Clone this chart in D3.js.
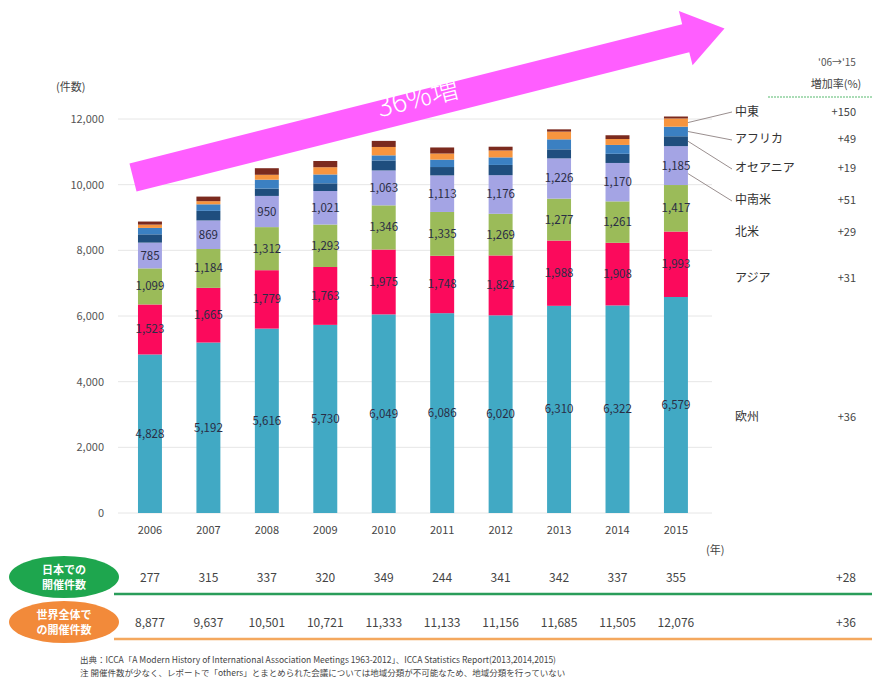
<!DOCTYPE html>
<html>
<head>
<meta charset="utf-8">
<script src="https://cdnjs.cloudflare.com/ajax/libs/d3/7.8.5/d3.min.js"></script>
<style>
  body { margin: 0; background: #fff; }
  text { font-family: "Noto Sans CJK JP", "Noto Sans", sans-serif; }
</style>
</head>
<body>
<svg id="chart" width="872" height="688"></svg>
<script>
const years = ["2006", "2007", "2008", "2009", "2010", "2011", "2012", "2013", "2014", "2015"];
const europe = [4828, 5192, 5616, 5730, 6049, 6086, 6020, 6310, 6322, 6579];
const asia = [1523, 1665, 1779, 1763, 1975, 1748, 1824, 1988, 1908, 1993];
const northAmerica = [1099, 1184, 1312, 1293, 1346, 1335, 1269, 1277, 1261, 1417];
const latinAmerica = [785, 869, 950, 1021, 1063, 1113, 1176, 1226, 1170, 1185];
const oceania = [252, 292, 224, 234, 305, 255, 312, 275, 279, 300];
const africa = [196, 200, 270, 270, 155, 226, 230, 305, 270, 292];
const middleEast = [100, 95, 150, 220, 255, 185, 210, 234, 180, 250];
const others = [94, 140, 200, 190, 185, 185, 115, 70, 115, 60];

const japanCount = [277, 315, 337, 320, 349, 244, 341, 342, 337, 355];
const worldTotal = [8877, 9637, 10501, 10721, 11333, 11133, 11156, 11685, 11505, 12076];

const regionNames = ["欧州", "アジア", "北米", "中南米", "オセアニア", "アフリカ", "中東", "その他"];
const regionGrowth = ["+36", "+31", "+29", "+51", "+19", "+49", "+150", ""];
const regionColors = ["#41a9c4", "#fb0a5c", "#9bbb59", "#a4a4e4", "#1f4e7e", "#3b80c2", "#f7953f", "#7b2a1e"];
const labelled = [true, true, true, true, false, false, false, false];
const yTicks = [0, 2000, 4000, 6000, 8000, 10000, 12000];
const japanGrowth = "+28";
const worldGrowth = "+36";

const series = [europe, asia, northAmerica, latinAmerica, oceania, africa, middleEast, others];
let rows = years.map((y, i) => {
  let r = { year: y };
  series.forEach((s, k) => (r["k" + k] = s[i]));
  return r;
});
let keys = series.map((s, k) => "k" + k);

let svg = d3.select("#chart");
let fmt = d3.format(",");

let x = d3.scaleBand().domain(years).range([103.5, 722.4]).padding(0.59);
let y = d3.scaleLinear().domain([0, 12000]).range([513, 119]);

// gridlines + y tick labels
svg.append("g")
  .selectAll("line")
  .data(yTicks)
  .enter()
  .append("line")
  .attr("x1", 118)
  .attr("x2", 712)
  .attr("y1", (d) => y(d))
  .attr("y2", (d) => y(d))
  .attr("stroke", "#e6e6e6")
  .attr("stroke-width", 1);

svg.append("g")
  .selectAll("text")
  .data(yTicks)
  .enter()
  .append("text")
  .attr("x", 104)
  .attr("y", (d) => y(d) + 4)
  .attr("text-anchor", "end")
  .attr("font-size", 11)
  .attr("fill", "#555")
  .text((d) => fmt(d));

svg.append("text").attr("x", 56).attr("y", 91).attr("font-size", 11).attr("fill", "#444").text("(件数)");

// stacked bars
let stacked = d3.stack().keys(keys)(rows);

let layers = svg.append("g")
  .selectAll("g")
  .data(stacked)
  .enter()
  .append("g")
  .attr("fill", (d, i) => regionColors[i]);

layers.selectAll("rect")
  .data((d) => d)
  .enter()
  .append("rect")
  .attr("x", (d) => x(d.data.year))
  .attr("y", (d) => y(d[1]))
  .attr("width", x.bandwidth())
  .attr("height", (d) => y(d[0]) - y(d[1]));

// value labels inside bigger segments
stacked.forEach((layer, i) => {
  if (!labelled[i]) return;
  svg.append("g")
    .selectAll("text")
    .data(layer)
    .enter()
    .append("text")
    .attr("x", (d) => x(d.data.year) + x.bandwidth() / 2)
    .attr("y", (d) => (y(d[0]) + y(d[1])) / 2 + 4)
    .attr("text-anchor", "middle")
    .attr("font-size", 11.5)
    .attr("fill", "#2a2d45")
    .text((d) => fmt(d[1] - d[0]));
});

// year labels
svg.append("g")
  .selectAll("text")
  .data(years)
  .enter()
  .append("text")
  .attr("x", (d) => x(d) + x.bandwidth() / 2)
  .attr("y", 534)
  .attr("text-anchor", "middle")
  .attr("font-size", 11)
  .attr("fill", "#444")
  .text((d) => d);

svg.append("text").attr("x", 706).attr("y", 554).attr("font-size", 11).attr("fill", "#444").text("(年)");

// right legend with growth rates
svg.append("text").attr("x", 837).attr("y", 66).attr("text-anchor", "middle").attr("font-size", 10).attr("fill", "#555").text("'06→'15");
svg.append("text").attr("x", 836).attr("y", 88).attr("text-anchor", "middle").attr("font-size", 11).attr("fill", "#444").text("増加率(%)");
svg.append("line").attr("x1", 768).attr("x2", 872).attr("y1", 97).attr("y2", 97)
  .attr("stroke", "#8fd19e").attr("stroke-width", 1.5).attr("stroke-dasharray", "2,1");

let legendY = [417, 278, 232, 200, 168, 139, 112];
let last = years.length - 1;
let lx = x(years[last]) + x.bandwidth();
for (let i = 0; i < 7; i++) {
  svg.append("text").attr("x", 735).attr("y", legendY[i] + 4).attr("font-size", 12).attr("fill", "#333").text(regionNames[i]);
  svg.append("text").attr("x", 856).attr("y", legendY[i] + 4).attr("text-anchor", "end").attr("font-size", 11).attr("fill", "#444").text(regionGrowth[i]);
  if (i >= 3) {
    let seg = stacked[i][last];
    svg.append("line")
      .attr("x1", lx)
      .attr("y1", (y(seg[0]) + y(seg[1])) / 2 + (i === 3 ? 8 : 0))
      .attr("x2", 732)
      .attr("y2", legendY[i] + (i === 6 ? 0 : 1))
      .attr("stroke", "#9a8f8f")
      .attr("stroke-width", 1);
  }
}

// pink arrow
let ang = Math.atan2(-0.252, 1);
let ca = Math.cos(ang), sa = Math.sin(ang);
let sx = 133, sy = 177.5, bandLen = 570, half = 14.5, headHalf = 28, headLen = 40;
let px = -sa, py = ca;
let bx = sx + ca * bandLen, by = sy + sa * bandLen;
let arrowPts = [
  [sx - px * half, sy - py * half],
  [bx - px * half, by - py * half],
  [bx - px * headHalf, by - py * headHalf],
  [bx + ca * headLen, by + sa * headLen],
  [bx + px * headHalf, by + py * headHalf],
  [bx + px * half, by + py * half],
  [sx + px * half, sy + py * half]
];
svg.append("path").attr("d", d3.line()(arrowPts) + "Z").attr("fill", "#ff5eff");
svg.append("text")
  .attr("transform", "translate(420,107) rotate(" + (ang * 180 / Math.PI) + ")")
  .attr("text-anchor", "middle")
  .attr("font-size", 28)
  .attr("font-weight", 300)
  .attr("fill", "#fff")
  .text("36%増");

// bottom table
function tableRow(cy, fill, lineColor, label1, label2, values, growth, textFmt) {
  svg.append("ellipse").attr("cx", 64).attr("cy", cy).attr("rx", 55).attr("ry", 21).attr("fill", fill);
  svg.append("text").attr("x", 64).attr("y", cy - 3).attr("text-anchor", "middle").attr("font-size", 11).attr("font-weight", "bold").attr("fill", "#fff").text(label1);
  svg.append("text").attr("x", 64).attr("y", cy + 12).attr("text-anchor", "middle").attr("font-size", 11).attr("font-weight", "bold").attr("fill", "#fff").text(label2);
  svg.append("g")
    .selectAll("text")
    .data(values)
    .enter()
    .append("text")
    .attr("x", (d, i) => x(years[i]) + x.bandwidth() / 2)
    .attr("y", cy + 5)
    .attr("text-anchor", "middle")
    .attr("font-size", 12)
    .attr("fill", "#444")
    .text((d) => textFmt(d));
  svg.append("text").attr("x", 856).attr("y", cy + 5).attr("text-anchor", "end").attr("font-size", 12).attr("fill", "#444").text(growth);
  svg.append("line").attr("x1", 114).attr("x2", 872).attr("y1", cy + 17).attr("y2", cy + 17).attr("stroke", lineColor).attr("stroke-width", 2.5);
}
tableRow(577, "#1ea64e", "#2a9d5a", "日本での", "開催件数", japanCount, japanGrowth, (d) => d);
tableRow(622, "#f28a3a", "#f4a85e", "世界全体で", "の開催件数", worldTotal, worldGrowth, fmt);

// footnote
svg.append("text").attr("x", 80).attr("y", 663).attr("font-size", 8.5).attr("fill", "#444")
  .text("出典：ICCA「A Modern History of International Association Meetings 1963-2012」、ICCA Statistics Report(2013,2014,2015)");
svg.append("text").attr("x", 80).attr("y", 676).attr("font-size", 8.5).attr("fill", "#444")
  .text("注  開催件数が少なく、レポートで「others」とまとめられた会議については地域分類が不可能なため、地域分類を行っていない");
</script>
</body>
</html>
